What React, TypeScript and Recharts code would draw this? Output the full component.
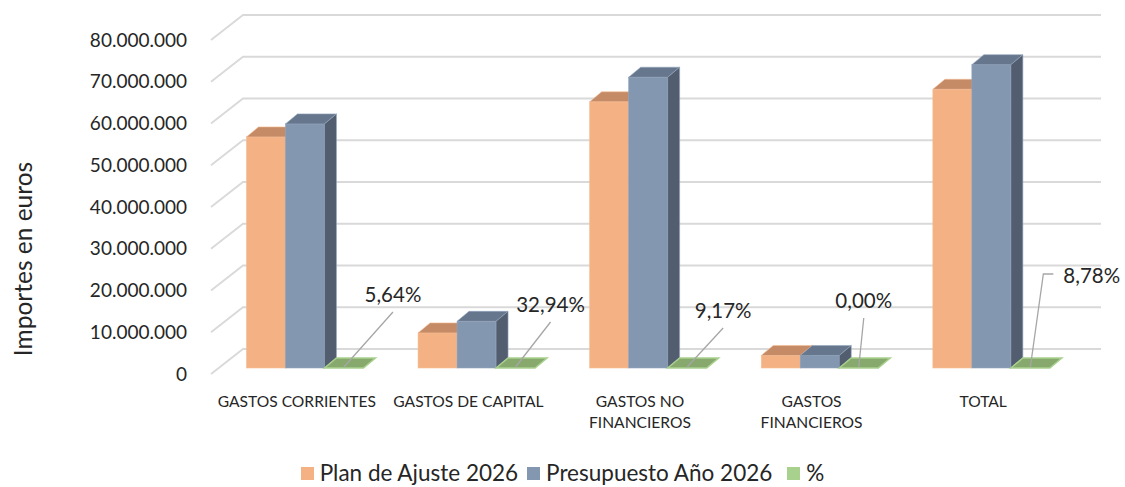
import React from "react";
import {
  ComposedChart,
  Bar,
  XAxis,
  YAxis,
  CartesianGrid,
  Legend,
  LabelList,
  Label,
} from "recharts";

// categories (line breaks as shown under the axis)
const categories = [
  "GASTOS CORRIENTES",
  "GASTOS DE CAPITAL",
  "GASTOS NO\nFINANCIEROS",
  "GASTOS\nFINANCIEROS",
  "TOTAL",
];
const planAjuste = [55350000, 8410000, 63760000, 3000000, 66760000];
const presupuesto = [58470000, 11180000, 69650000, 3000000, 72650000];
const porcentaje = [5.64, 32.94, 9.17, 0.0, 8.78];
const yTicks = [0, 10000000, 20000000, 30000000, 40000000, 50000000, 60000000, 70000000, 80000000];

const data = categories.map((name, i) => ({
  name,
  plan: planAjuste[i],
  pres: presupuesto[i],
  pct: porcentaje[i],
}));

// fake 3d offsets
const WALL_DX = 32;
const WALL_DY = -25;
const SHIFT_X = 8;
const SHIFT_Y = -6;
const DEPTH_X = 12;
const DEPTH_Y = -10;

const FONT = "Lato, 'Open Sans', sans-serif";
const TEXT = "#262626";

// where the % labels sit relative to the green tile
const labelLayout = [
  { dx: 49, dy: -55, elbow: 0 },
  { dx: 35, dy: -45, elbow: 0 },
  { dx: 36, dy: -39, elbow: 0 },
  { dx: 5, dy: -49, elbow: 0 },
  { dx: 13, dy: -93, elbow: 10 },
];

const fmtEuros = (v: number) => String(v).replace(/\B(?=(\d{3})+(?!\d))/g, ".");
const fmtPct = (v: number) => v.toFixed(2).replace(".", ",") + "%";

const make3DBar = (front: string, top: string, side: string, edge: string) => (props: any) => {
  const { x, y, width, height } = props;
  if (x == null || y == null) return <g />;
  const fx = x + SHIFT_X;
  const fy = y + SHIFT_Y;
  const w = width;
  const h = Math.max(height, 0);
  return (
    <g>
      <rect x={fx} y={fy} width={w} height={h} fill={front} stroke={edge} strokeWidth={0.6} />
      <polygon
        points={`${fx},${fy} ${fx + DEPTH_X},${fy + DEPTH_Y} ${fx + w + DEPTH_X},${fy + DEPTH_Y} ${fx + w},${fy}`}
        fill={top}
        stroke={edge}
        strokeWidth={0.6}
      />
      <polygon
        points={`${fx + w},${fy} ${fx + w + DEPTH_X},${fy + DEPTH_Y} ${fx + w + DEPTH_X},${fy + h + DEPTH_Y} ${fx + w},${fy + h}`}
        fill={side}
        stroke={edge}
        strokeWidth={0.6}
      />
    </g>
  );
};

const TileShape = (props: any) => {
  const { x, y, width, height } = props;
  if (x == null || y == null) return <g />;
  const fx = x + SHIFT_X;
  const fy = y + height + SHIFT_Y;
  const w = width;
  return (
    <polygon
      points={`${fx},${fy} ${fx + DEPTH_X},${fy + DEPTH_Y} ${fx + w + DEPTH_X},${fy + DEPTH_Y} ${fx + w},${fy}`}
      fill="#87A96E"
      stroke="#A9D18E"
      strokeWidth={1.5}
    />
  );
};

const PctLabel = (props: any) => {
  const vb = props.viewBox || props;
  const { x, y, width, height } = vb;
  const { value, index } = props;
  const lay = labelLayout[index];
  if (!lay || x == null) return null;
  const ax = x + width / 2 + SHIFT_X;
  const ay = y + height + SHIFT_Y - 1;
  const ex = ax + lay.dx;
  const ey = ay + lay.dy;
  const pathD = lay.elbow
    ? `M${ax},${ay} L${ex},${ey} L${ex + lay.elbow},${ey}`
    : `M${ax},${ay} L${ex},${ey}`;
  return (
    <g>
      <path d={pathD} stroke="#A6A6A6" strokeWidth={1.3} fill="none" />
      {lay.elbow ? (
        <text x={ex + lay.elbow + 10} y={ey + 9} textAnchor="start" fontSize={20.5} fill={TEXT} fontFamily={FONT}>
          {fmtPct(value)}
        </text>
      ) : (
        <text x={ex} y={ey - 10} textAnchor="middle" fontSize={20.5} fill={TEXT} fontFamily={FONT}>
          {fmtPct(value)}
        </text>
      )}
    </g>
  );
};

const GridLine = (p: any) => {
  const { x1, y1, x2 } = p;
  return (
    <path
      key={p.key}
      d={`M${x1},${y1} L${x1 + WALL_DX},${y1 + WALL_DY} L${x2 + WALL_DX},${y1 + WALL_DY}`}
      stroke="#D9D9D9"
      strokeWidth={1.8}
      fill="none"
    />
  );
};

const CategoryTick = (props: any) => {
  const { x, y, payload } = props;
  const lines = String(payload.value).split("\n");
  return (
    <text x={x} y={y + 31} textAnchor="middle" fontSize={15.6} fill={TEXT} fontFamily={FONT}>
      {lines.map((l, i) => (
        <tspan key={i} x={x} dy={i === 0 ? 0 : 21}>
          {l}
        </tspan>
      ))}
    </text>
  );
};

const legendItems = [
  { label: "Plan de Ajuste 2026", color: "#F4B183", gap: 9 },
  { label: "Presupuesto Año 2026", color: "#8497B0", gap: 15 },
  { label: "%", color: "#A9D18E", gap: 0 },
];

const LegendBox = () => (
  <div
    style={{
      display: "flex",
      justifyContent: "center",
      alignItems: "center",
      height: 22,
      lineHeight: "22px",
      fontFamily: FONT,
      fontSize: 22.5,
      color: TEXT,
    }}
  >
    {legendItems.map((it) => (
      <div key={it.label} style={{ display: "flex", alignItems: "center", marginRight: it.gap }}>
        <span style={{ width: 13, height: 13, background: it.color, marginRight: 6, display: "inline-block" }} />
        <span>{it.label}</span>
      </div>
    ))}
  </div>
);

export default function App() {
  return (
    <div style={{ position: "absolute", left: 0, top: 0, width: 1125, height: 487, background: "#fff", fontFamily: FONT }}>
      <ComposedChart
        width={1125}
        height={487}
        data={data}
        margin={{ top: 40, right: 56, left: 0, bottom: 31 }}
        barCategoryGap="16%"
        barGap={0}
      >
        <CartesianGrid vertical={false} horizontal={GridLine} syncWithTicks />
        <XAxis
          dataKey="name"
          axisLine={false}
          tickLine={false}
          tickSize={0}
          interval={0}
          height={60}
          tick={<CategoryTick />}
        />
        <YAxis
          width={211}
          domain={[0, 80000000]}
          ticks={yTicks}
          tickFormatter={fmtEuros}
          axisLine={false}
          tickLine={false}
          tickSize={0}
          tickMargin={24}
          tick={{ fontSize: 19, fill: TEXT, fontFamily: FONT }}
        >
          <Label
            content={() => (
              <text
                x={22}
                y={259}
                transform="rotate(-90 22 259)"
                textAnchor="middle"
                dominantBaseline="central"
                fontSize={24.5}
                fill={TEXT}
                fontFamily={FONT}
              >
                Importes en euros
              </text>
            )}
          />
        </YAxis>
        <YAxis yAxisId="pct" hide domain={[0, 100000]} />
        <Bar dataKey="plan" name="Plan de Ajuste 2026" fill="#F4B183" isAnimationActive={false}
          shape={make3DBar("#F4B183", "#C48B66", "#B87F5A", "#F6BE96")} />
        <Bar dataKey="pres" name="Presupuesto Año 2026" fill="#8497B0" isAnimationActive={false}
          shape={make3DBar("#8497B0", "#66778D", "#525E70", "#94A6BE")} />
        <Bar dataKey="pct" yAxisId="pct" name="%" fill="#A9D18E" isAnimationActive={false} shape={TileShape}>
          <LabelList dataKey="pct" content={<PctLabel />} />
        </Bar>
        <Legend verticalAlign="bottom" height={22} content={<LegendBox />}
          wrapperStyle={{ position: "absolute", top: 462, left: 0, width: 1125 }} />
      </ComposedChart>
    </div>
  );
}
